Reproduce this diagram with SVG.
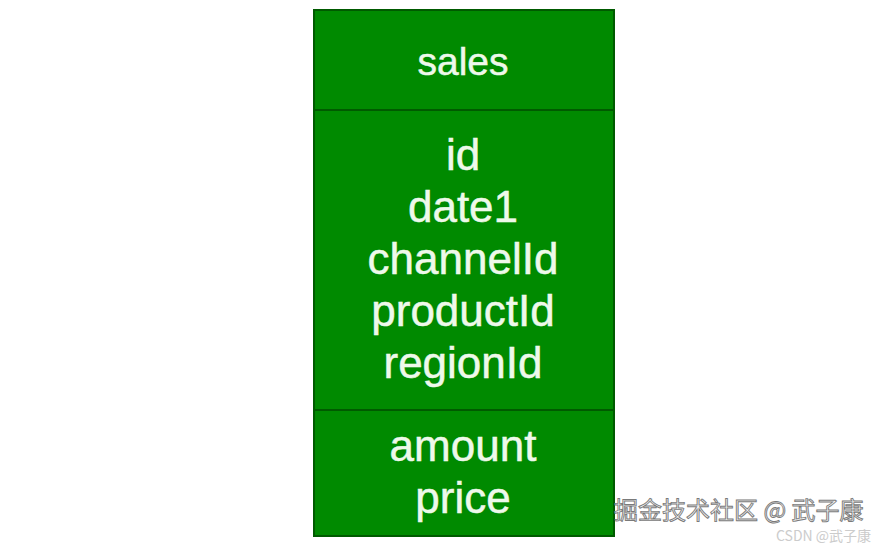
<svg xmlns="http://www.w3.org/2000/svg" width="892" height="546" viewBox="0 0 892 546">
<style>
.box{fill:#008a00;stroke:#005a00;stroke-width:2}
.div{stroke:#005a00;stroke-width:2}
.t{font-family:"Liberation Sans",Arial,sans-serif;fill:#eef9ea;text-anchor:middle;stroke:#eef9ea;stroke-width:0.5}
.f{font-size:44px}
.wm{font-family:"Noto Sans CJK SC","Liberation Sans",sans-serif}
</style>
<rect width="892" height="546" fill="#ffffff"/>
<g id="sales">
<rect class="box" x="314" y="10" width="300" height="526"/>
<line class="div" x1="314" y1="110" x2="614" y2="110"/>
<line class="div" x1="314" y1="410" x2="614" y2="410"/>
<text class="t" x="463" y="75" font-size="39">sales</text>
<text class="t f" x="463" y="170">id</text>
<text class="t f" x="463" y="222">date1</text>
<text class="t f" x="463" y="274">channelId</text>
<text class="t f" x="463" y="326">productId</text>
<text class="t f" x="463" y="378">regionId</text>
<text class="t f" x="463" y="461">amount</text>
<text class="t f" x="463" y="513">price</text>
</g>
<g id="watermark">
<text class="wm" x="614" y="519" font-size="24" fill="#f4f4f4" stroke="#7a7a7a" stroke-width="0.9">掘金技术社区 @ 武子康</text>
<text class="wm" x="776" y="541" font-size="14" fill="#cccccc">CSDN @武子康</text>
</g>
</svg>
